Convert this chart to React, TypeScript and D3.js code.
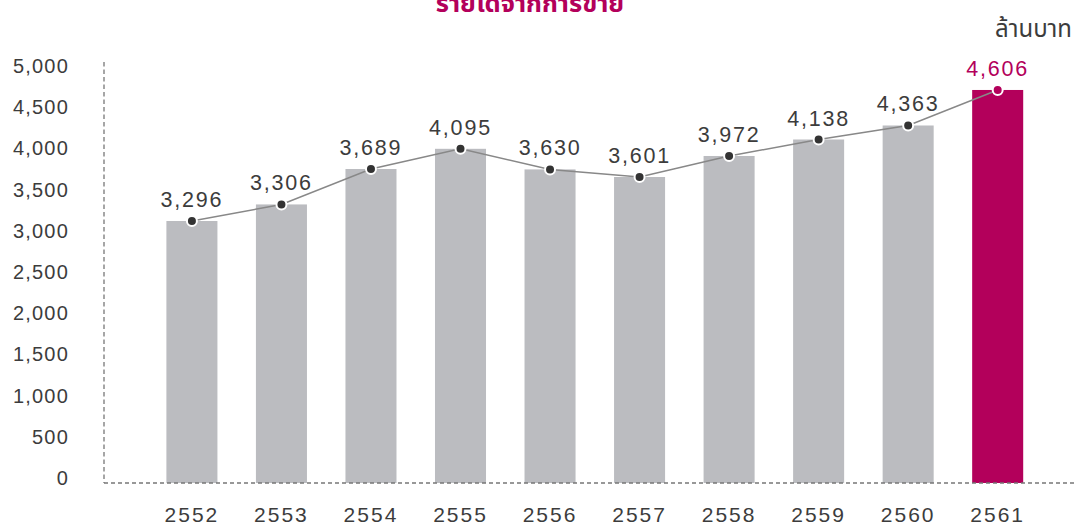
import React from "react";
import * as d3 from "d3";

const years = ["2552", "2553", "2554", "2555", "2556", "2557", "2558", "2559", "2560", "2561"];
// Reported sales (labels shown on the chart), million baht
const salesLabels = [3296, 3306, 3689, 4095, 3630, 3601, 3972, 4138, 4363, 4606];
// Heights of the bars / line points as drawn in the picture (axis units)
const drawnValues = [3119, 3320, 3750, 3995, 3745, 3653, 3908, 4108, 4278, 4709];
const yTicks = [0, 500, 1000, 1500, 2000, 2500, 3000, 3500, 4000, 4500, 5000];
const title = "รายได้จากการขาย";
const unitLabel = "ล้านบาท";

const W = 1076;
const H = 525;
const GREY = "#bbbcc0";
const MAGENTA = "#b3005b";
const TEXT = "#3c3c3c";
const FONT = "'Liberation Sans', 'Noto Sans', sans-serif";

export default function App() {
  const x = d3.scaleBand<string>().domain(years).range([166.4, 1023.2]).paddingInner(0.43).paddingOuter(0);
  const y = d3.scaleLinear().domain([0, 5000]).range([478, 66]);
  const baseY = y(0) + 5;
  const fmt = d3.format(",");
  const cx = (d: string) => (x(d) as number) + x.bandwidth() / 2;
  const pts: [number, number][] = years.map((yr, i) => [cx(yr), y(drawnValues[i])]);
  const line = d3.line()(pts) || "";
  const last = years.length - 1;

  return (
    <svg
      width={W}
      height={H}
      style={{ position: "absolute", left: 0, top: 0, display: "block", background: "#fff" }}
      fontFamily={FONT}
    >
      <text x={530} y={12} textAnchor="middle" fontSize={25.5} fontWeight="bold" fill={MAGENTA}
        fontFamily="'Noto Sans Thai', 'Noto Sans', sans-serif">
        {title}
      </text>
      <text x={1072} y={37} textAnchor="end" fontSize={24} fill={TEXT}
        fontFamily="'Noto Sans Thai', 'Noto Sans', sans-serif">
        {unitLabel}
      </text>

      {/* y axis */}
      <line x1={104} x2={104} y1={62} y2={baseY} stroke="#777" strokeWidth={1.3} strokeDasharray="4.5,3" />
      {yTicks.map((t) => (
        <text key={t} x={69} y={y(t)} textAnchor="end" dominantBaseline="central" fontSize={20}
          letterSpacing={1.2} fill={TEXT}>
          {fmt(t)}
        </text>
      ))}

      {/* bars */}
      {years.map((yr, i) => (
        <rect key={yr} x={x(yr)} y={y(drawnValues[i])} width={x.bandwidth()}
          height={baseY - y(drawnValues[i])} fill={i === last ? MAGENTA : GREY} />
      ))}

      {/* baseline */}
      <line x1={104} x2={W} y1={baseY} y2={baseY} stroke="#777" strokeWidth={1.3} strokeDasharray="4,3" />

      {/* x labels */}
      {years.map((yr) => (
        <text key={yr} x={cx(yr)} y={522} textAnchor="middle" fontSize={21} letterSpacing={2} fill={TEXT}>
          {yr}
        </text>
      ))}

      {/* line */}
      <path d={line} fill="none" stroke="#888" strokeWidth={1.5} />
      {pts.map(([px, py], i) => (
        <circle key={years[i]} cx={px} cy={py} r={5} fill={i === last ? MAGENTA : "#333"} stroke="#fff" strokeWidth={2} />
      ))}

      {/* value labels */}
      {pts.map(([px, py], i) => (
        <text key={years[i]} x={px} y={py - 14} textAnchor="middle" fontSize={21.5} letterSpacing={1.8}
          fill={i === last ? MAGENTA : TEXT}>
          {fmt(salesLabels[i])}
        </text>
      ))}
    </svg>
  );
}
